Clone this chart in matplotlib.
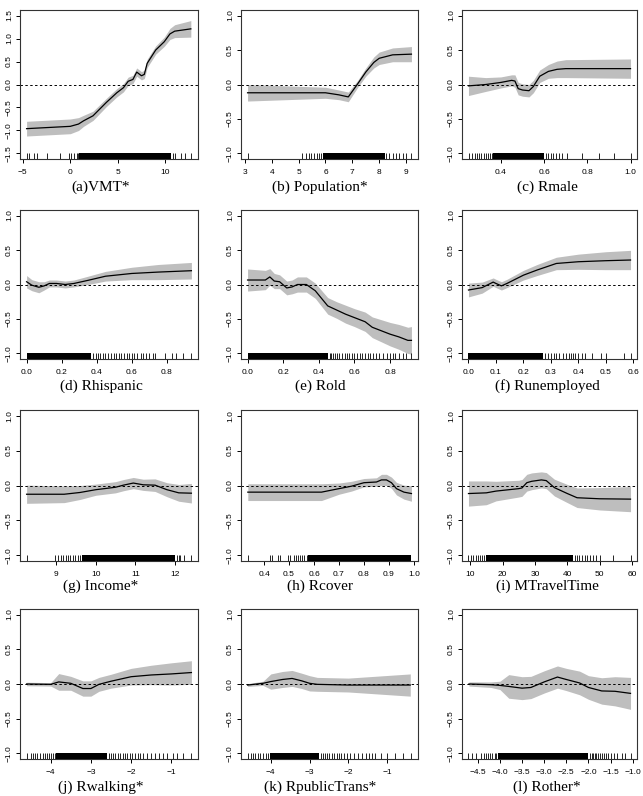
import matplotlib
matplotlib.use("Agg")
import matplotlib.pyplot as plt
import numpy as np

W, H = 643, 796

# ---- (a) VMT*
vmt_x = [-4.6, 0.0, 0.87, 1.4, 2.4, 3.8, 4.9, 5.6, 6.1, 6.6, 7.0, 7.5, 7.8, 8.1, 9.0, 9.9, 10.5, 11.0, 12.7]
vmt_fit = [-0.96, -0.91, -0.86, -0.79, -0.68, -0.39, -0.18, -0.07, 0.07, 0.11, 0.27, 0.19, 0.22, 0.46, 0.75, 0.93, 1.1, 1.16, 1.21]
vmt_se = [0.16, 0.16, 0.14, 0.12, 0.1, 0.09, 0.09, 0.09, 0.09, 0.09, 0.09, 0.09, 0.09, 0.09, 0.09, 0.1, 0.12, 0.14, 0.18]
vmt_rug = [-4.55, -4.37, -3.85, -3.5, -2.45, -1.05, -0.17, 0.1, 0.42, 0.7, 0.85, 10.8, 11.0, 11.7, 12.06, 12.76]
vmt_dense = [(0.9, 10.6)]

# ---- (b) Population*
pop_x = [3.1, 6.0, 6.5, 6.85, 7.2, 7.5, 7.8, 8.0, 8.5, 9.2]
pop_fit = [-0.12, -0.12, -0.15, -0.18, 0.01, 0.18, 0.32, 0.38, 0.43, 0.44]
pop_se = [0.12, 0.08, 0.07, 0.07, 0.05, 0.06, 0.08, 0.09, 0.1, 0.11]
pop_rug = [3.1, 5.14, 5.26, 5.39, 5.47, 5.57, 5.67, 5.75, 5.84, 8.26, 8.38, 8.51, 8.63, 8.75, 8.88, 9.0, 9.19]
pop_dense = [(5.9, 8.2)]

# ---- (c) Rmale
male_x = [0.25, 0.33, 0.40, 0.45, 0.465, 0.48, 0.50, 0.53, 0.55, 0.58, 0.62, 0.66, 0.70, 1.0]
male_fit = [-0.02, 0.0, 0.03, 0.06, 0.05, -0.06, -0.08, -0.09, -0.03, 0.12, 0.19, 0.22, 0.23, 0.23]
male_se = [0.14, 0.1, 0.08, 0.08, 0.09, 0.09, 0.09, 0.09, 0.09, 0.09, 0.1, 0.12, 0.13, 0.14]
male_rug = [0.252, 0.265, 0.278, 0.29, 0.3, 0.31, 0.32, 0.33, 0.34, 0.35, 0.36,
            0.61, 0.62, 0.63, 0.64, 0.655, 0.67, 0.685, 0.705, 0.775, 0.855, 0.925, 1.0]
male_dense = [(0.365, 0.6)]

# ---- (d) Rhispanic
hisp_x = [0.0, 0.03, 0.07, 0.10, 0.13, 0.17, 0.22, 0.27, 0.35, 0.45, 0.6, 0.75, 0.94]
hisp_fit = [0.04, -0.01, -0.04, -0.02, 0.015, 0.015, 0.0, 0.015, 0.06, 0.12, 0.16, 0.18, 0.2]
hisp_se = [0.09, 0.08, 0.08, 0.06, 0.05, 0.05, 0.05, 0.05, 0.06, 0.07, 0.09, 0.11, 0.12]
hisp_rug = [0.38, 0.395, 0.41, 0.42, 0.435, 0.45, 0.465, 0.48, 0.5, 0.51, 0.525, 0.54, 0.555, 0.57,
            0.585, 0.6, 0.615, 0.63, 0.65, 0.665, 0.68, 0.7, 0.72, 0.73, 0.79, 0.83, 0.85, 0.89, 0.94]
hisp_dense = [(0.0, 0.37)]

# ---- (e) Rold
old_x = [0.0, 0.1, 0.125, 0.15, 0.18, 0.22, 0.25, 0.28, 0.33, 0.38, 0.45, 0.5, 0.55, 0.6, 0.66, 0.7, 0.75, 0.8, 0.85, 0.9, 0.92]
old_fit = [0.065, 0.065, 0.11, 0.05, 0.04, -0.05, -0.035, 0.0, 0.0, -0.09, -0.31, -0.37, -0.43, -0.48, -0.54, -0.62, -0.67, -0.72, -0.76, -0.81, -0.81]
old_se = [0.16, 0.14, 0.12, 0.11, 0.1, 0.1, 0.1, 0.11, 0.11, 0.11, 0.12, 0.12, 0.13, 0.13, 0.14, 0.15, 0.16, 0.17, 0.18, 0.19, 0.2]
old_rug = [0.46, 0.47, 0.48, 0.49, 0.5, 0.515, 0.53, 0.545, 0.56, 0.57, 0.585, 0.6, 0.615, 0.63, 0.645,
           0.66, 0.675, 0.69, 0.705, 0.72, 0.74, 0.76, 0.78, 0.8, 0.815, 0.83, 0.85, 0.87, 0.89, 0.92]
old_dense = [(0.0, 0.45)]

# ---- (f) Runemployed
unemp_x = [0.0, 0.05, 0.09, 0.1, 0.12, 0.14, 0.2, 0.25, 0.32, 0.4, 0.5, 0.59]
unemp_fit = [-0.08, -0.045, 0.035, 0.015, -0.02, 0.015, 0.135, 0.21, 0.305, 0.33, 0.345, 0.355]
unemp_se = [0.1, 0.08, 0.06, 0.06, 0.06, 0.06, 0.07, 0.08, 0.09, 0.11, 0.13, 0.14]
unemp_rug = [0.28, 0.29, 0.3, 0.31, 0.32, 0.33, 0.344, 0.356, 0.365, 0.372, 0.38, 0.389, 0.4,
             0.413, 0.426, 0.448, 0.484, 0.499, 0.566, 0.59]
unemp_dense = [(0.0, 0.27)]

# ---- (g) Income*
inc_x = [8.25, 9.2, 9.6, 10.0, 10.5, 10.7, 10.95, 11.2, 11.5, 11.8, 12.1, 12.42]
inc_fit = [-0.125, -0.125, -0.1, -0.06, -0.025, 0.005, 0.035, 0.01, 0.005, -0.06, -0.105, -0.11]
inc_se = [0.13, 0.12, 0.1, 0.08, 0.08, 0.08, 0.08, 0.08, 0.09, 0.1, 0.12, 0.14]
inc_rug = [8.25, 8.96, 9.04, 9.12, 9.18, 9.24, 9.3, 9.36, 9.42, 9.48, 9.54, 9.6,
           12.05, 12.1, 12.14, 12.23, 12.42]
inc_dense = [(9.65, 12.0)]

# ---- (h) Rcover
cov_x = [0.335, 0.63, 0.7, 0.75, 0.8, 0.85, 0.87, 0.89, 0.91, 0.93, 0.96, 0.99]
cov_fit = [-0.095, -0.095, -0.045, -0.01, 0.04, 0.05, 0.08, 0.08, 0.04, -0.045, -0.095, -0.115]
cov_se = [0.12, 0.12, 0.08, 0.07, 0.06, 0.06, 0.08, 0.08, 0.08, 0.09, 0.1, 0.11]
cov_rug = [0.334, 0.425, 0.431, 0.457, 0.465, 0.497, 0.505, 0.521, 0.529, 0.537, 0.542, 0.553, 0.56, 0.57]
cov_dense = [(0.575, 0.99)]

# ---- (i) MTravelTime
tt_x = [9.5, 15, 18, 25, 26, 27.5, 29, 32, 33.5, 36, 40, 43, 50, 59.5]
tt_fit = [-0.115, -0.105, -0.08, -0.045, -0.035, 0.04, 0.06, 0.08, 0.07, -0.03, -0.115, -0.175, -0.19, -0.195]
tt_se = [0.18, 0.17, 0.14, 0.12, 0.12, 0.12, 0.12, 0.115, 0.115, 0.12, 0.13, 0.14, 0.16, 0.18]
tt_rug = [9.5, 10.2, 11.0, 11.7, 12.4, 13.1, 13.8, 14.4, 42.3, 42.9, 43.6, 44.4, 45.4, 46.1,
          47.0, 48.0, 49.0, 50.0, 54.1, 59.5]
tt_dense = [(15.0, 41.8)]

# ---- (j) Rwalking*
walk_x = [-4.6, -4.0, -3.8, -3.5, -3.2, -3.0, -2.8, -2.5, -2.0, -1.5, -1.0, -0.5]
walk_fit = [0.0, -0.005, 0.03, 0.01, -0.065, -0.065, -0.005, 0.04, 0.105, 0.13, 0.145, 0.165]
walk_se = [0.025, 0.025, 0.12, 0.1, 0.11, 0.11, 0.1, 0.1, 0.12, 0.14, 0.16, 0.17]
walk_rug = [-4.59, -4.5, -4.45, -4.38, -4.33, -4.27, -4.2, -4.15, -4.1, -4.05, -4.0, -3.95, -3.9,
            -2.55, -2.5, -2.45, -2.4, -2.33, -2.27, -2.2, -2.15, -2.1, -2.03, -1.97, -1.9, -1.83,
            -1.77, -1.7, -1.6, -1.5, -1.4, -1.3, -1.2, -1.1, -0.95, -0.85, -0.72, -0.5]
walk_dense = [(-3.88, -2.6)]

# ---- (k) RpublicTrans*
pub_x = [-4.6, -4.2, -4.0, -3.7, -3.45, -3.2, -3.0, -2.8, -2.0, -0.4]
pub_fit = [-0.015, 0.01, 0.035, 0.065, 0.08, 0.045, 0.01, -0.005, -0.015, -0.015]
pub_se = [0.02, 0.03, 0.11, 0.115, 0.115, 0.11, 0.11, 0.1, 0.1, 0.16]
pub_rug = [-4.6, -4.52, -4.45, -4.4, -4.33, -4.27, -4.2, -4.13, -4.07,
           -2.7, -2.65, -2.6, -2.55, -2.5, -2.43, -2.37, -2.3, -2.25, -2.18, -2.1, -2.03, -1.95,
           -1.85, -1.75, -1.65, -1.55, -1.47, -1.38, -1.3, -1.15, -1.0, -0.8, -0.6, -0.37]
pub_dense = [(-4.02, -2.75)]

# ---- (l) Rother*
oth_x = [-4.7, -4.2, -4.0, -3.8, -3.5, -3.3, -3.0, -2.7, -2.5, -2.2, -2.0, -1.7, -1.4, -1.05]
oth_fit = [0.0, -0.01, -0.02, -0.035, -0.06, -0.05, 0.03, 0.1, 0.065, 0.015, -0.05, -0.1, -0.105, -0.135]
oth_se = [0.03, 0.04, 0.06, 0.17, 0.165, 0.16, 0.16, 0.16, 0.16, 0.17, 0.17, 0.19, 0.21, 0.23]
oth_rug = [-4.71, -4.62, -4.55, -4.42, -4.37, -4.32, -4.27, -4.22, -4.17, -4.12, -4.08,
           -1.97, -1.93, -1.9, -1.86, -1.82, -1.78, -1.74, -1.7, -1.66, -1.6, -1.55, -1.5,
           -1.42, -1.35, -1.25, -1.18, -1.05]
oth_dense = [(-4.04, -2.0)]

captions = ["(a)VMT*", "(b) Population*", "(c) Rmale",
            "(d) Rhispanic", "(e) Rold", "(f) Runemployed",
            "(g) Income*", "(h) Rcover", "(i) MTravelTime",
            "(j) Rwalking*", "(k) RpublicTrans*", "(l) Rother*"]

xticks = [[-5, 0, 5, 10], [3, 4, 5, 6, 7, 8, 9], [0.4, 0.6, 0.8, 1.0],
          [0.0, 0.2, 0.4, 0.6, 0.8], [0.0, 0.2, 0.4, 0.6, 0.8], [0.0, 0.1, 0.2, 0.3, 0.4, 0.5, 0.6],
          [9, 10, 11, 12], [0.4, 0.5, 0.6, 0.7, 0.8, 0.9, 1.0], [10, 20, 30, 40, 50, 60],
          [-4, -3, -2, -1], [-4, -3, -2, -1], [-4.5, -4.0, -3.5, -3.0, -2.5, -2.0, -1.5, -1.0]]
xfmt = ["{:.0f}", "{:.0f}", "{:.1f}", "{:.1f}", "{:.1f}", "{:.1f}",
        "{:.0f}", "{:.1f}", "{:.0f}", "{:.0f}", "{:.0f}", "{:.1f}"]

panels = [
    (vmt_x, vmt_fit, vmt_se, vmt_rug, vmt_dense),
    (pop_x, pop_fit, pop_se, pop_rug, pop_dense),
    (male_x, male_fit, male_se, male_rug, male_dense),
    (hisp_x, hisp_fit, hisp_se, hisp_rug, hisp_dense),
    (old_x, old_fit, old_se, old_rug, old_dense),
    (unemp_x, unemp_fit, unemp_se, unemp_rug, unemp_dense),
    (inc_x, inc_fit, inc_se, inc_rug, inc_dense),
    (cov_x, cov_fit, cov_se, cov_rug, cov_dense),
    (tt_x, tt_fit, tt_se, tt_rug, tt_dense),
    (walk_x, walk_fit, walk_se, walk_rug, walk_dense),
    (pub_x, pub_fit, pub_se, pub_rug, pub_dense),
    (oth_x, oth_fit, oth_se, oth_rug, oth_dense),
]

# pixel boxes of the plot regions
cols = [(20, 198), (241, 418), (462, 637)]
rows = [(10, 159), (210, 359), (410, 561), (609, 759)]
cap_x = [101, 320, 547]
cap_y = [187, 386, 586, 787]

plt.rcParams['font.family'] = ['Liberation Sans', 'DejaVu Sans']

fig = plt.figure(figsize=(W / 100, H / 100), dpi=100)

for k, (x, fit, se, rug, dense) in enumerate(panels):
    r, c = divmod(k, 3)
    x0, x1 = cols[c]
    y0, y1 = rows[r]
    ax = fig.add_axes([x0 / W, 1 - y1 / H, (x1 - x0) / W, (y1 - y0) / H])

    x = np.array(x)
    fit = np.array(fit)
    se = np.array(se)
    ax.fill_between(x, fit - se, fit + se, color='#bebebe', lw=0, zorder=1)
    ax.plot(x, fit, color='black', lw=0.9, zorder=3)
    ax.axhline(0, color='black', lw=0.7, ls=(0, (2.5, 2.5)), zorder=2)

    trans = ax.get_xaxis_transform()
    ax.vlines(rug, 0, 0.04, transform=trans, color='black', lw=0.6, zorder=4)
    for a, b in dense:
        ax.axvspan(a, b, ymin=0, ymax=0.04, color='black', lw=0, zorder=4)

    lo = min(x.min(), min(rug))
    hi = max(x.max(), max(rug))
    pad = 0.04 * (hi - lo)
    ax.set_xlim(lo - pad, hi + pad)
    if k == 0:
        ax.set_ylim(-1.62, 1.62)
        yt = [-1.5, -1.0, -0.5, 0.0, 0.5, 1.0, 1.5]
    else:
        ax.set_ylim(-1.08, 1.08)
        yt = [-1.0, -0.5, 0.0, 0.5, 1.0]

    ax.set_xticks(xticks[k])
    ax.set_xticklabels([xfmt[k].format(v).replace('-', '\u2212') for v in xticks[k]])
    ax.set_yticks(yt)
    ax.set_yticklabels(["{:.1f}".format(v).replace('-', '\u2212') for v in yt])
    for lab in ax.get_yticklabels():
        lab.set_rotation(90)
        lab.set_va('center')
    ax.tick_params(axis='both', direction='out', length=3, width=0.7, labelsize=6, color='black')
    ax.tick_params(axis='x', pad=4.5)
    ax.tick_params(axis='y', pad=2)
    for s in ax.spines.values():
        s.set_linewidth(0.8)
        s.set_color('#333333')

    fig.text(cap_x[c] / W, 1 - cap_y[r] / H, captions[k], ha='center', va='center',
             fontsize=11, family=['Liberation Serif', 'DejaVu Serif'])

fig.savefig("out.png", dpi=100)
